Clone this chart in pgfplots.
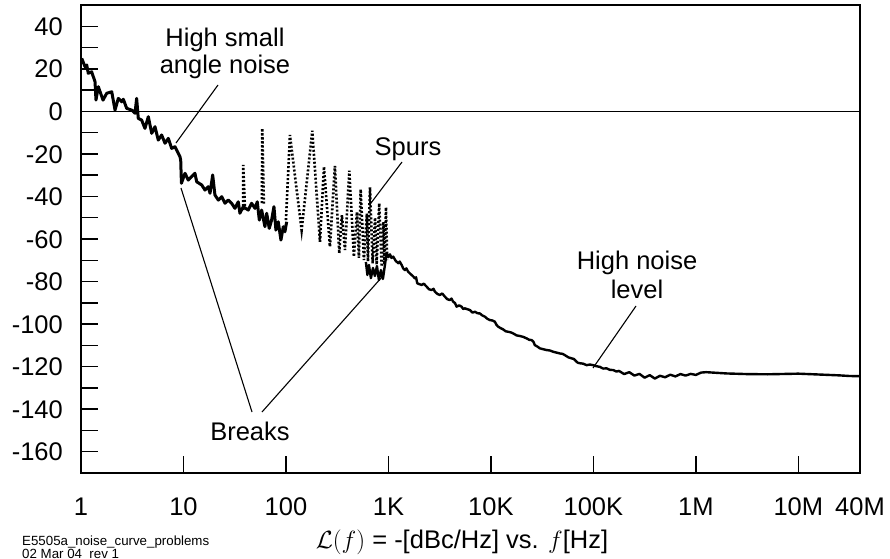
\documentclass[border=0pt]{standalone}
\usepackage{pgfplots}
\pgfplotsset{compat=1.18}
\usepackage{fontspec}
\setmainfont{Liberation Sans}
\newcommand{\bigf}{\fontsize{25.5}{28}\selectfont}
\newcommand{\smallf}{\fontsize{13.3}{14}\selectfont}

\pgfplotstableread{
x y
0.007 24.9
0.039 21.0
0.056 21.8
0.071 17.9
0.104 18.6
0.137 13.9
0.146 5.3
0.169 11.6
0.215 5.3
0.251 8.5
0.300 9.2
0.332 0.6
0.364 6.1
0.397 4.5
0.413 5.7
0.446 1.4
0.495 0.6
0.527 -0.9
0.543 6.1
0.559 -3.3
0.592 -4.1
0.624 -8.0
0.657 -2.5
0.690 -10.3
0.722 -7.2
0.754 -13.5
0.787 -11.1
0.820 -15.0
0.852 -12.7
0.885 -17.4
0.917 -16.6
0.949 -19.7
0.966 -21.3
0.973 -22.9
0.980 -33.8
1.015 -29.1
1.047 -32.3
1.080 -30.7
1.112 -29.1
1.129 -33.1
1.178 -34.6
1.210 -37.0
1.242 -35.4
1.259 -38.5
1.285 -29.9
1.307 -39.3
1.340 -41.7
1.373 -40.1
1.405 -43.2
1.437 -41.7
1.470 -43.2
1.502 -45.6
1.535 -42.5
1.551 -47.9
1.583 -44.8
1.632 -46.4
1.665 -43.2
1.698 -45.6
1.720 -42.5
1.740 -51.1
1.763 -46.4
1.795 -54.2
1.812 -47.9
1.837 -55.0
1.860 -51.1
1.883 -44.8
1.902 -55.8
1.925 -51.9
1.951 -60.5
1.974 -54.2
1.990 -56.6
2.007 -51.9
}\segA

\pgfplotstableread{
x y
2.780 -70.8
2.795 -76.9
2.810 -72.2
2.829 -78.4
2.849 -73.6
2.868 -77.4
2.888 -72.7
2.907 -79.3
2.927 -74.6
2.946 -78.8
2.966 -72.2
2.982 -66.7
3.000 -68.5
3.015 -67.2
3.030 -68.9
3.047 -68.3
3.070 -70.2
3.096 -71.4
3.110 -70.6
3.129 -72.2
3.145 -73.9
3.161 -74.6
3.175 -73.8
3.193 -75.4
3.210 -76.2
3.226 -76.9
3.240 -77.5
3.259 -78.5
3.270 -78.0
3.281 -80.8
3.300 -81.2
3.324 -81.6
3.345 -81.0
3.373 -82.4
3.395 -83.6
3.421 -84.0
3.440 -83.4
3.454 -84.8
3.480 -85.9
3.502 -86.3
3.525 -85.6
3.551 -87.1
3.575 -88.3
3.600 -88.7
3.615 -88.0
3.632 -89.5
3.650 -90.1
3.665 -91.8
3.690 -91.2
3.714 -91.8
3.730 -92.9
3.746 -92.6
3.770 -93.0
3.795 -93.4
3.820 -94.6
3.844 -94.2
3.870 -94.9
3.893 -95.0
3.915 -95.9
3.941 -96.5
3.965 -97.5
3.990 -98.1
4.015 -98.3
4.039 -98.9
4.055 -100.4
4.071 -101.2
4.095 -101.9
4.120 -102.5
4.145 -103.4
4.169 -103.6
4.195 -103.9
4.218 -104.4
4.250 -105.3
4.283 -105.6
4.315 -106.0
4.348 -106.7
4.375 -107.4
4.397 -107.5
4.415 -108.3
4.429 -109.9
4.455 -110.6
4.478 -111.4
4.510 -111.8
4.543 -112.2
4.575 -112.4
4.608 -113.0
4.640 -113.4
4.673 -113.8
4.700 -114.0
4.722 -114.6
4.755 -115.6
4.787 -116.1
4.810 -116.4
4.836 -117.7
4.850 -118.2
4.868 -118.4
4.900 -118.6
4.934 -119.3
4.965 -119.0
4.998 -119.3
5.030 -119.8
5.063 -120.1
5.095 -120.9
5.129 -120.8
5.160 -121.5
5.193 -121.6
5.225 -122.3
5.250 -122.0
5.300 -123.5
5.350 -122.6
5.400 -124.2
5.450 -123.4
5.500 -125.2
5.550 -124.0
5.600 -125.6
5.650 -124.3
5.700 -125.0
5.750 -123.8
5.800 -124.6
5.850 -123.5
5.900 -124.2
5.950 -123.4
6.000 -123.9
6.050 -122.8
6.100 -122.6
6.200 -122.9
6.300 -123.2
6.500 -123.5
6.700 -123.6
6.900 -123.4
7.000 -123.3
7.200 -123.7
7.400 -124.1
7.500 -124.4
7.600 -124.5
}\segB

\pgfplotstableread{
x y
2.000 -51.1
2.039 -11.1
2.153 -55.8
2.257 -9.1
2.332 -61.3
2.371 -26.0
2.429 -63.6
2.478 -25.7
2.520 -66.7
2.546 -48.7
2.576 -65.2
2.618 -27.9
2.663 -68.3
2.693 -47.3
2.712 -68.9
2.729 -36.6
2.761 -69.9
2.790 -48.0
2.800 -70.5
2.820 -35.7
2.846 -71.4
2.870 -50.0
2.885 -72.0
2.910 -43.2
2.934 -73.0
2.950 -52.0
2.962 -72.0
2.976 -45.1
2.988 -69.9
}\spurs

\begin{document}
\begin{tikzpicture}
\begin{axis}[
  scale only axis, width=779pt, height=468pt,
  at={(0pt,0pt)}, anchor=south west,
  xmin=0, xmax=7.602, ymin=-170, ymax=50,
  axis line style={line width=2.8pt},
  xtick={0,1,2,3,4,5,6,7,7.602},
  xticklabels={1,10,100,1K,10K,100K,1M,10M,40M},
  ytick={-160,-140,-120,-100,-80,-60,-40,-20,0,20,40},
  yticklabels={-160,-140,-120,-100,-80,-60,-40,-20,0,20,40},
  minor ytick={-150,-130,-110,-90,-70,-50,-30,-10,10,30},
  tick align=inside,
  xtick pos=bottom, ytick pos=left,
  major tick length=17pt, minor tick length=17pt,
  tick style={black, line width=1.4pt},
  tick label style={font=\bigf, inner sep=0pt},
  yticklabel style={anchor=base east, xshift=-18pt, yshift=-9.1pt},
  xticklabel style={anchor=base, yshift=-42pt},
]
\addplot[black, line width=1.2pt] coordinates {(0,0) (7.602,0)};
\addplot[black, line width=2.6pt, dash pattern=on 2pt off 2pt] coordinates {(1.583,-46.4) (1.583,-25.2) (1.600,-45.4)};
\addplot[black, line width=2.6pt, dash pattern=on 2pt off 2pt] coordinates {(1.765,-43.1) (1.769,-8.0) (1.785,-44.0)};
\addplot[black, line width=2.6pt, dash pattern=on 2pt off 2pt] table[x=x,y=y] {\spurs};
\addplot[black, line width=3pt, line join=round] table[x=x,y=y] {\segA};
\addplot[black, line width=2.4pt, line join=round] table[x=x,y=y] {\segB};
\end{axis}
% annotations (pt from the lower-left corner of the axis box)
\node[anchor=base, font=\bigf, inner sep=0pt] at (144pt,427pt) {High small};
\node[anchor=base, font=\bigf, inner sep=0pt] at (144pt,400pt) {angle noise};
\draw[line width=1.1pt] (137pt,388pt) -- (95pt,330pt);
\node[anchor=base, font=\bigf, inner sep=0pt] at (327pt,318pt) {Spurs};
\draw[line width=1.1pt] (321pt,311pt) -- (290pt,270pt);
\node[anchor=base, font=\bigf, inner sep=0pt] at (556pt,204pt) {High noise};
\node[anchor=base, font=\bigf, inner sep=0pt] at (556pt,175pt) {level};
\draw[line width=1.1pt] (555pt,167pt) -- (512pt,105pt);
\node[anchor=base, font=\bigf, inner sep=0pt] at (169pt,33pt) {Breaks};
\draw[line width=1.1pt] (100pt,285pt) -- (171pt,61pt);
\draw[line width=1.1pt] (181pt,61pt) -- (301pt,196pt);
\node[anchor=base, font=\bigf, inner sep=0pt] at (381pt,-75pt) {$\mathcal{L}(f)$ = -[dBc/Hz] vs. $f$[Hz]};
\node[anchor=base west, font=\smallf, inner sep=0pt] at (-59pt,-72pt) {E5505a\_noise\_curve\_problems};
\node[anchor=base west, font=\smallf, inner sep=0pt] at (-59pt,-85pt) {02 Mar 04\_rev 1};
\pgfresetboundingbox
\path[use as bounding box] (-81pt,-85pt) rectangle (809pt,473pt);
\end{tikzpicture}
\end{document}
